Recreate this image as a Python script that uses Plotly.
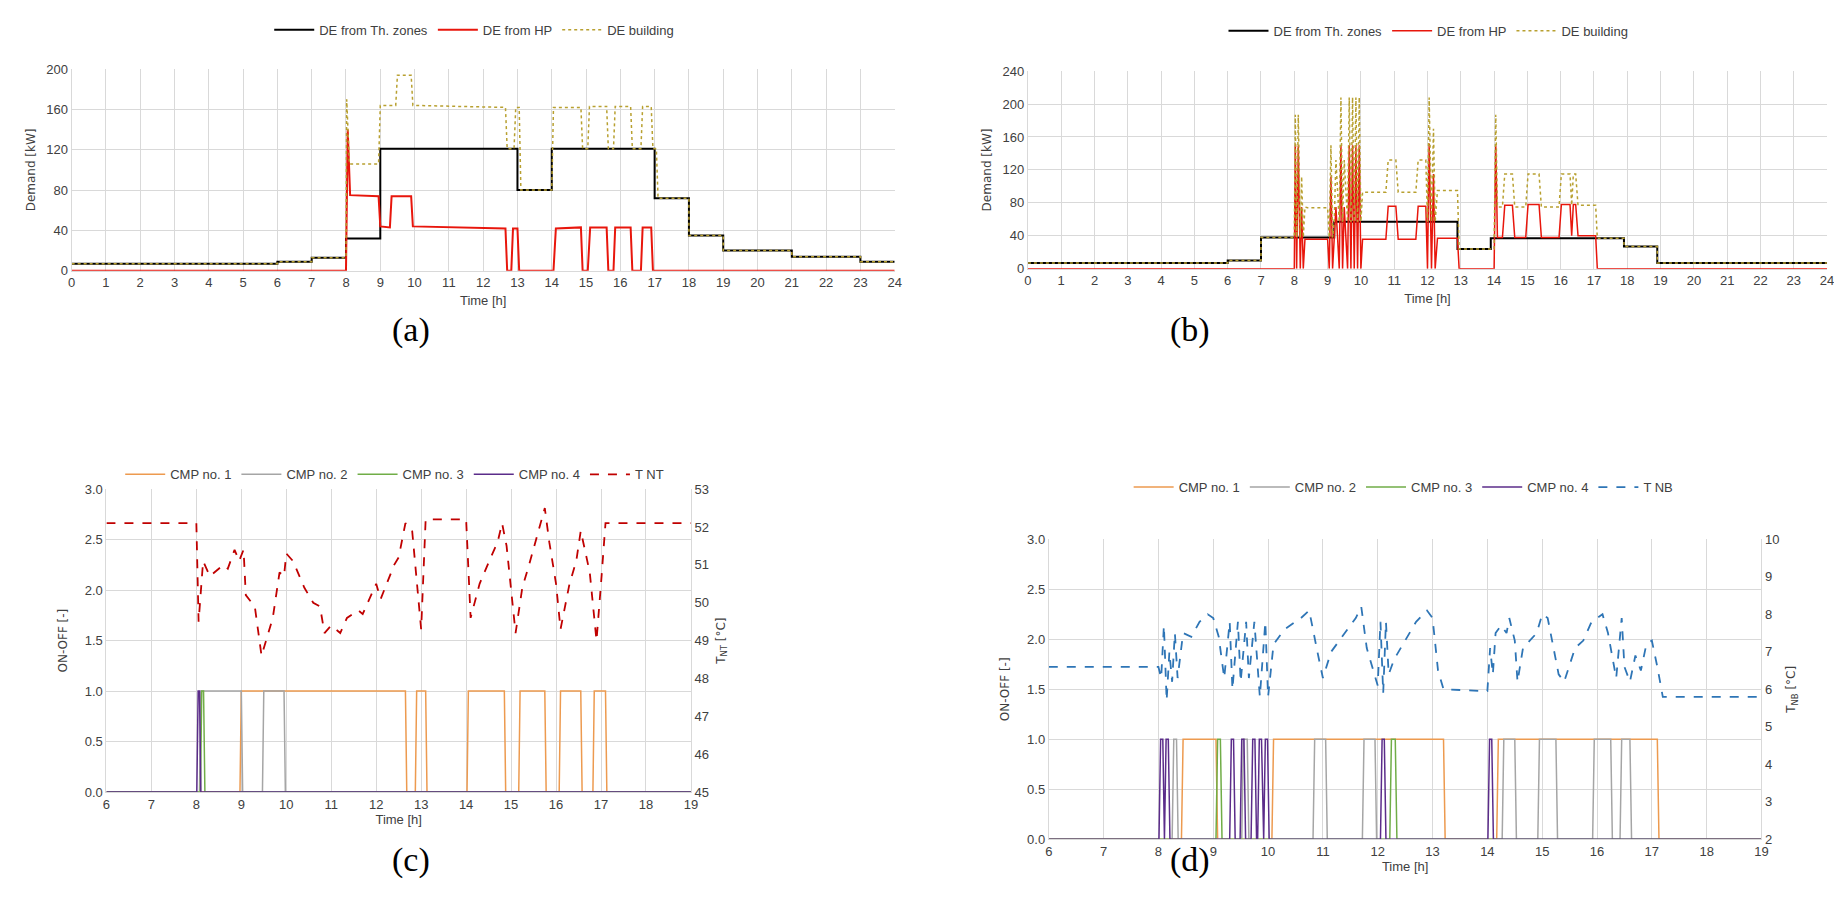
import plotly.graph_objects as go

# ---- panel (a) ----
a_zone_t = [0, 6, 7, 8, 9, 13, 14, 17, 18, 19, 21, 23, 24]
a_zone_v = [7, 9, 13, 32, 121, 80, 121, 72, 35, 20, 14, 9, 9]

a_hp_t = [0, 8.0, 8.05, 8.12, 8.95, 9.0, 9.28, 9.33, 9.9, 9.95, 12.65, 12.7, 12.82, 12.87, 13.0, 13.05, 14.05, 14.12, 14.85, 14.9, 15.05, 15.12, 15.6, 15.65, 15.8, 15.85, 16.3, 16.35, 16.6, 16.65, 16.9, 16.95, 24]
a_hp_v = [0, 0, 140, 75, 74, 44, 43, 74, 74, 44, 42, 0, 0, 42, 42, 0, 0, 42, 43, 0, 0, 43, 43, 0, 0, 43, 43, 0, 0, 43, 43, 0, 0]

a_bld_t = [0, 6, 6, 7, 7, 8, 8.02, 8.1, 8.95, 9.0, 9.45, 9.5, 9.9, 9.95, 12.65, 12.7, 12.9, 12.95, 13.05, 13.1, 14.0, 14.05, 14.85, 14.9, 15.05, 15.1, 15.6, 15.65, 15.8, 15.85, 16.3, 16.35, 16.6, 16.65, 16.9, 16.95, 17.05, 17.1, 18, 18, 19, 19, 21, 21, 23, 23, 24]
a_bld_v = [7, 7, 9, 9, 13, 13, 170, 106, 106, 164, 164, 194, 194, 164, 162, 121, 121, 162, 162, 80, 80, 162, 162, 121, 121, 163, 163, 121, 121, 163, 163, 121, 121, 163, 163, 121, 121, 72, 72, 35, 35, 20, 20, 14, 14, 9, 9]

# ---- panel (b) ----
b_zone_t = [0, 6, 7, 9.2, 12.9, 13.9, 17.9, 18.9, 24]
b_zone_v = [7, 10, 38, 57, 24, 37, 27, 7, 7]

b_hp_t = [0, 8.0, 8.03, 8.07, 8.12, 8.18, 8.22, 8.27, 8.32, 8.4, 9.0, 9.05, 9.1, 9.15, 9.25, 9.35, 9.4, 9.45, 9.5, 9.6, 9.65, 9.7, 9.75, 9.8, 9.85, 9.9, 9.95, 10.0, 10.05, 10.1, 10.75, 10.82, 11.05, 11.12, 11.65, 11.72, 11.95, 12.0, 12.05, 12.12, 12.18, 12.23, 12.3, 12.9, 12.95, 14.0, 14.05, 14.1, 14.25, 14.32, 14.55, 14.62, 14.95, 15.02, 15.35, 15.42, 15.95, 16.02, 16.28, 16.33, 16.38, 16.45, 16.52, 17.05, 17.1, 24]
b_hp_v = [0, 0, 150, 0, 150, 0, 75, 0, 36, 36, 36, 0, 112, 0, 75, 0, 150, 0, 75, 0, 150, 0, 150, 0, 150, 0, 150, 0, 36, 36, 36, 76, 76, 36, 36, 76, 76, 0, 152, 0, 115, 0, 37, 37, 0, 0, 150, 38, 38, 77, 77, 38, 38, 78, 78, 38, 38, 78, 78, 40, 78, 78, 40, 40, 0, 0]

b_bld_t = [0, 6, 6, 7, 7, 8.0, 8.03, 8.07, 8.12, 8.18, 8.22, 8.27, 8.32, 8.4, 9.0, 9.05, 9.1, 9.15, 9.2, 9.25, 9.35, 9.4, 9.45, 9.5, 9.6, 9.65, 9.7, 9.75, 9.8, 9.85, 9.9, 9.95, 10.0, 10.05, 10.1, 10.75, 10.82, 11.05, 11.12, 11.65, 11.72, 11.95, 12.0, 12.05, 12.12, 12.18, 12.23, 12.3, 12.9, 12.95, 14.0, 14.05, 14.1, 14.25, 14.32, 14.55, 14.62, 14.95, 15.02, 15.35, 15.42, 15.95, 16.02, 16.28, 16.33, 16.38, 16.45, 16.52, 17.05, 17.1, 17.9, 17.9, 18.9, 18.9, 24]
b_bld_v = [7, 7, 10, 10, 38, 38, 187, 38, 187, 38, 112, 38, 75, 74, 74, 38, 150, 38, 57, 132, 57, 208, 57, 132, 57, 208, 57, 208, 57, 208, 57, 208, 57, 93, 93, 93, 132, 132, 93, 93, 132, 132, 57, 208, 57, 170, 57, 95, 95, 24, 24, 187, 75, 75, 115, 115, 75, 75, 115, 115, 75, 75, 115, 115, 77, 115, 115, 77, 77, 37, 37, 27, 27, 7, 7]

# ---- panel (c) ON/OFF intervals and T NT ----
c_cmp1 = [(9.0, 12.65), (12.9, 13.1), (14.05, 14.85), (15.2, 15.75), (16.1, 16.55), (16.85, 17.1)]
c_cmp2 = [(8.1, 9.0), (9.5, 9.95)]
c_cmp3 = [(8.12, 8.16)]
c_cmp4 = [(8.04, 8.07)]
c_tnt_t = [6, 8.0, 8.05, 8.15, 8.3, 8.6, 8.7, 8.85, 8.95, 9.05, 9.1, 9.3, 9.45, 9.7, 9.85, 9.95, 10.0, 10.15, 10.4, 10.6, 10.75, 10.85, 11.0, 11.1, 11.2, 11.35, 11.6, 11.7, 12.0, 12.1, 12.4, 12.5, 12.65, 12.8, 12.9, 13.0, 13.1, 14.0, 14.1, 14.3, 14.55, 14.7, 14.8, 14.9, 15.1, 15.25, 15.4, 15.6, 15.75, 15.85, 16.0, 16.1, 16.3, 16.45, 16.55, 16.75, 16.9, 17.0, 17.1, 19]
c_tnt_v = [52.1, 52.1, 49.5, 51.1, 50.7, 51.0, 50.9, 51.4, 51.1, 51.4, 50.2, 49.9, 48.6, 49.6, 50.8, 50.7, 51.3, 51.1, 50.4, 50.0, 49.9, 49.2, 49.4, 49.3, 49.2, 49.6, 49.8, 49.7, 50.5, 50.1, 51.0, 51.2, 52.1, 51.9, 50.6, 49.3, 52.2, 52.2, 49.6, 50.5, 51.2, 51.6, 52.1, 51.5, 49.2, 50.4, 51.0, 51.9, 52.5, 51.6, 50.5, 49.3, 50.5, 51.1, 51.9, 50.8, 49.0, 50.5, 52.1, 52.1]

# ---- panel (d) ON/OFF intervals and T NB ----
d_cmp1 = [(8.45, 9.05), (10.1, 13.2), (14.2, 17.1)]
d_cmp2 = [(8.28, 8.33), (9.55, 9.62), (10.85, 11.05), (11.75, 11.95), (14.3, 14.5), (14.95, 15.25), (15.95, 16.25), (16.45, 16.6)]
d_cmp3 = [(9.08, 9.13), (12.25, 12.32)]
d_cmp4 = [(8.04, 8.08), (8.14, 8.18), (9.33, 9.37), (9.52, 9.56), (9.72, 9.76), (9.84, 9.88), (9.95, 9.99), (12.08, 12.12), (14.04, 14.08)]
d_tnb_t = [6, 8.0, 8.05, 8.1, 8.15, 8.2, 8.25, 8.3, 8.35, 8.45, 8.6, 8.75, 8.9, 9.0, 9.1, 9.2, 9.3, 9.35, 9.45, 9.5, 9.6, 9.65, 9.75, 9.85, 9.95, 10.0, 10.1, 10.3, 10.6, 10.75, 10.9, 11.0, 11.15, 11.4, 11.6, 11.7, 11.8, 12.0, 12.05, 12.1, 12.15, 12.2, 12.3, 12.5, 12.7, 12.9, 13.0, 13.1, 13.2, 14.0, 14.05, 14.1, 14.15, 14.25, 14.35, 14.4, 14.5, 14.55, 14.65, 14.9, 15.0, 15.1, 15.3, 15.4, 15.6, 15.75, 15.9, 16.0, 16.1, 16.2, 16.35, 16.45, 16.5, 16.6, 16.7, 16.8, 16.9, 17.0, 17.1, 17.2, 19]
d_tnb_v = [6.6, 6.6, 6.3, 7.7, 5.7, 7.0, 6.2, 7.5, 6.3, 7.5, 7.4, 7.8, 8.0, 7.9, 7.4, 6.3, 7.8, 6.0, 7.8, 6.2, 7.8, 6.3, 7.8, 5.8, 7.8, 5.8, 7.2, 7.6, 7.9, 8.1, 7.0, 6.3, 7.0, 7.5, 7.9, 8.2, 7.1, 6.1, 7.8, 5.9, 7.8, 6.4, 6.8, 7.3, 7.8, 8.1, 7.9, 6.5, 6.0, 5.95, 7.1, 6.4, 7.5, 7.7, 7.5, 7.9, 7.3, 6.2, 7.1, 7.5, 8.0, 7.9, 6.4, 6.2, 7.1, 7.3, 7.8, 7.9, 8.0, 7.5, 6.3, 7.9, 6.6, 6.2, 6.9, 6.5, 7.2, 7.3, 6.6, 5.8, 5.8]

ORANGE = "#ed9a4f"
GREY = "#a5a5a5"
GREEN = "#70ad47"
PURPLE = "#5b2c8a"
GRID = "#d9d9d9"
TXT = "#404040"
FONT = "Liberation Sans Narrow, Liberation Sans, sans-serif"


def onoff(intervals, t0=6, t1=19, ramp=0.03):
    xs, ys = [t0], [0]
    for s, e in intervals:
        xs += [s - ramp, s, e, e + ramp]
        ys += [0, 1, 1, 0]
    xs.append(t1)
    ys.append(0)
    return xs, ys


fig = go.Figure()

# (a)
fig.add_trace(go.Scatter(x=a_zone_t, y=a_zone_v, mode="lines", line=dict(color="black", width=2, shape="hv"),
                         name="DE from Th. zones", xaxis="x", yaxis="y", legend="legend"))
fig.add_trace(go.Scatter(x=a_hp_t, y=a_hp_v, mode="lines", line=dict(color="#e8160c", width=2),
                         name="DE from HP", xaxis="x", yaxis="y", legend="legend"))
fig.add_trace(go.Scatter(x=a_bld_t, y=a_bld_v, mode="lines", line=dict(color="#b8a030", width=1.5, dash="dot"),
                         name="DE building", xaxis="x", yaxis="y", legend="legend"))
# (b)
fig.add_trace(go.Scatter(x=b_zone_t, y=b_zone_v, mode="lines", line=dict(color="black", width=2, shape="hv"),
                         name="DE from Th. zones", xaxis="x2", yaxis="y2", legend="legend2"))
fig.add_trace(go.Scatter(x=b_hp_t, y=b_hp_v, mode="lines", line=dict(color="#e8160c", width=1.5),
                         name="DE from HP", xaxis="x2", yaxis="y2", legend="legend2"))
fig.add_trace(go.Scatter(x=b_bld_t, y=b_bld_v, mode="lines", line=dict(color="#b8a030", width=1.5, dash="dot"),
                         name="DE building", xaxis="x2", yaxis="y2", legend="legend2"))

# (c)
for name, iv, col in [("CMP no. 1", c_cmp1, ORANGE), ("CMP no. 2", c_cmp2, GREY),
                      ("CMP no. 3", c_cmp3, GREEN), ("CMP no. 4", c_cmp4, PURPLE)]:
    xs, ys = onoff(iv)
    fig.add_trace(go.Scatter(x=xs, y=ys, mode="lines", line=dict(color=col, width=1.5),
                             name=name, xaxis="x3", yaxis="y3", legend="legend3"))
fig.add_trace(go.Scatter(x=c_tnt_t, y=c_tnt_v, mode="lines", line=dict(color="#c00000", width=1.8, dash="dash"),
                         name="T NT", xaxis="x3", yaxis="y5", legend="legend3"))

# (d)
for name, iv, col in [("CMP no. 1", d_cmp1, ORANGE), ("CMP no. 2", d_cmp2, GREY),
                      ("CMP no. 3", d_cmp3, GREEN), ("CMP no. 4", d_cmp4, PURPLE)]:
    xs, ys = onoff(iv)
    fig.add_trace(go.Scatter(x=xs, y=ys, mode="lines", line=dict(color=col, width=1.5),
                             name=name, xaxis="x4", yaxis="y4", legend="legend4"))
fig.add_trace(go.Scatter(x=d_tnb_t, y=d_tnb_v, mode="lines", line=dict(color="#2e75b6", width=1.8, dash="dash"),
                         name="T NB", xaxis="x4", yaxis="y6", legend="legend4"))

tick = dict(family=FONT, size=13, color=TXT)
ytitle = dict(family="DejaVu Sans", size=12, color=TXT)
ax = dict(showgrid=True, gridcolor=GRID, zeroline=False, tickfont=tick, showline=True, linecolor=GRID, ticks="")
W, H = 1842, 918


def px(x0, x1):
    return [x0 / W, x1 / W]


def py(y_bottom, y_top):
    return [1 - y_bottom / H, 1 - y_top / H]


def leg(x, y):
    return dict(orientation="h", x=x / W, y=1 - y / H, xanchor="center", yanchor="middle",
                font=dict(family=FONT, size=13, color=TXT), bgcolor="rgba(0,0,0,0)", itemwidth=40)


fig.update_layout(
    width=W, height=H, margin=dict(l=0, r=0, t=0, b=0),
    paper_bgcolor="white", plot_bgcolor="white", showlegend=True,
    xaxis=dict(ax, domain=px(60, 888), range=[0, 24], dtick=1, anchor="y",
               title=dict(text="Time [h]", font=tick, standoff=6)),
    yaxis=dict(ax, domain=py(260, 55), range=[0, 200], dtick=40, anchor="x",
               title=dict(text="Demand [kW]", font=ytitle, standoff=8)),
    xaxis2=dict(ax, domain=px(1022, 1826), range=[0, 24], dtick=1, anchor="y2",
                title=dict(text="Time [h]", font=tick, standoff=6)),
    yaxis2=dict(ax, domain=py(258, 57), range=[0, 240], dtick=40, anchor="x2",
                title=dict(text="Demand [kW]", font=ytitle, standoff=8)),
    xaxis3=dict(ax, domain=px(95, 683), range=[6, 19], dtick=1, anchor="y3",
                title=dict(text="Time [h]", font=tick, standoff=2)),
    yaxis3=dict(ax, domain=py(790, 482), range=[0, 3], dtick=0.5, tickformat=".1f", anchor="x3",
                title=dict(text="ON-OFF [-]", font=ytitle, standoff=14)),
    yaxis5=dict(ax, range=[45, 53], dtick=1, overlaying="y3", side="right", anchor="x3", showgrid=False,
                title=dict(text="T<sub>NT</sub> [°C]", font=ytitle, standoff=8)),
    xaxis4=dict(ax, domain=px(1043, 1760), range=[6, 19], dtick=1, anchor="y4",
                title=dict(text="Time [h]", font=tick, standoff=2)),
    yaxis4=dict(ax, domain=py(838, 533), range=[0, 3], dtick=0.5, tickformat=".1f", anchor="x4",
                title=dict(text="ON-OFF [-]", font=ytitle, standoff=14)),
    yaxis6=dict(ax, range=[2, 10], dtick=1, overlaying="y4", side="right", anchor="x4", showgrid=False,
                title=dict(text="T<sub>NB</sub> [°C]", font=ytitle, standoff=8)),
    legend=leg(465, 15),
    legend2=leg(1425, 16),
    legend3=leg(385, 467),
    legend4=leg(1400, 480),
)

for txt, x, y in [("(a)", 380, 320), ("(b)", 1185, 320), ("(c)", 380, 880), ("(d)", 1185, 880)]:
    fig.add_annotation(text=txt, x=x / W, y=1 - y / H, xref="paper", yref="paper", showarrow=False,
                       font=dict(family="Liberation Serif", size=34, color="black"))

fig.write_html("out.html")
